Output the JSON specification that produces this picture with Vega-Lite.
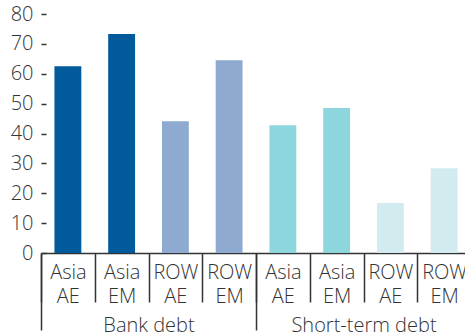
{
  "$schema": "https://vega.github.io/schema/vega-lite/v6.json",
  "autosize": "none",
  "width": 430,
  "height": 239,
  "padding": {"left": 41, "top": 14, "right": -6, "bottom": 80},
  "background": "white",
  "config": {
    "view": {"stroke": null},
    "font": "Open Sans",
    "axis": {"labelFont": "Open Sans", "labelColor": "#333333", "labelFontSize": 20, "labelFontWeight": 300, "domainColor": "#333333", "tickColor": "#333333"}
  },
  "data": {
    "values": [
      {"key": "Bank debt|Asia AE", "group": "Bank debt", "series": "Asia AE", "value": 62.5},
      {"key": "Bank debt|Asia EM", "group": "Bank debt", "series": "Asia EM", "value": 73.3},
      {"key": "Bank debt|ROW AE", "group": "Bank debt", "series": "ROW AE", "value": 44.1},
      {"key": "Bank debt|ROW EM", "group": "Bank debt", "series": "ROW EM", "value": 64.5},
      {"key": "Short-term debt|Asia AE", "group": "Short-term debt", "series": "ST Asia AE", "value": 42.8},
      {"key": "Short-term debt|Asia EM", "group": "Short-term debt", "series": "ST Asia EM", "value": 48.5},
      {"key": "Short-term debt|ROW AE", "group": "Short-term debt", "series": "ST ROW AE", "value": 16.7},
      {"key": "Short-term debt|ROW EM", "group": "Short-term debt", "series": "ST ROW EM", "value": 28.4}
    ]
  },
  "layer": [
    {
      "mark": {"type": "bar", "width": {"band": 0.5}},
      "encoding": {
        "x": {
          "field": "key", "type": "nominal", "sort": null,
          "scale": {"paddingInner": 0, "paddingOuter": 0},
          "axis": {
            "orient": "bottom", "title": null, "labelAngle": 0,
            "tickBand": "extent", "tickSize": 49, "tickWidth": 1.5,
            "domainWidth": 1.5, "labelPadding": -40, "labelBaseline": "top",
            "labelLineHeight": 24,
            "labelExpr": "isString(datum.value) ? split(split(datum.value, '|')[1], ' ') : ''"
          }
        },
        "y": {
          "field": "value", "type": "quantitative",
          "scale": {"domain": [0, 80]},
          "axis": {
            "title": null, "domain": false, "grid": false,
            "values": [0, 10, 20, 30, 40, 50, 60, 70, 80],
            "tickSize": -5, "tickWidth": 1.5, "labelPadding": 13
          }
        },
        "color": {
          "field": "series", "type": "nominal", "legend": null,
          "scale": {
            "domain": ["Asia AE", "Asia EM", "ROW AE", "ROW EM", "ST Asia AE", "ST Asia EM", "ST ROW AE", "ST ROW EM"],
            "range": ["#005a9c", "#005a9c", "#8eaad0", "#8eaad0", "#8ed6dd", "#8ed6dd", "#d2ebef", "#d2ebef"]
          }
        }
      }
    },
    {
      "mark": {"type": "point", "opacity": 0},
      "encoding": {
        "x": {
          "field": "group", "type": "nominal", "sort": null,
          "scale": {"paddingInner": 0, "paddingOuter": 0},
          "axis": {
            "orient": "bottom", "title": null, "labelAngle": 0, "domain": false,
            "tickBand": "extent", "tickSize": 77, "tickWidth": 1.5,
            "labelPadding": -15, "labelBaseline": "top",
            "labelExpr": "isString(datum.value) ? datum.value : ''"
          }
        }
      }
    }
  ],
  "resolve": {"scale": {"x": "independent", "color": "independent"}, "axis": {"x": "independent"}}
}
